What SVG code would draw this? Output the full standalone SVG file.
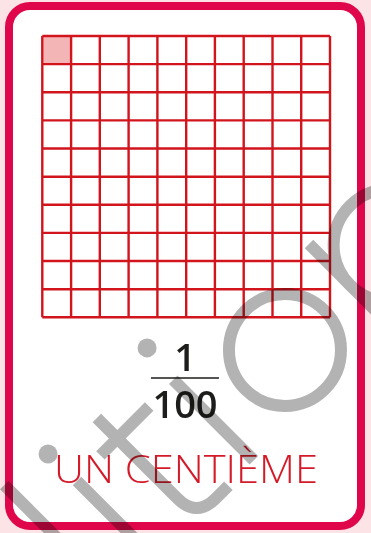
<svg xmlns="http://www.w3.org/2000/svg" width="371" height="533" viewBox="0 0 371 533">
  <style>
    .grid { stroke: #d2141d; stroke-width: 2.4; fill: none; }
    .wm { stroke: #b3b3b3; stroke-width: 12; fill: none; stroke-linecap: butt; }
    .wmdot { fill: #b3b3b3; }
    .num { font-family: "Open Sans", "Liberation Sans", sans-serif; font-weight: 600; font-size: 38px; fill: #1d1d1b; text-anchor: middle; }
    .label { font-family: "Open Sans", "Liberation Sans", sans-serif; font-weight: 300; font-size: 39px; fill: #d41a28; }
  </style>
  <rect x="0" y="0" width="371" height="533" fill="#fbe3e6"/>
  <g id="card">
    <rect x="11" y="8" width="352" height="520" rx="21" fill="#cfc2c4" opacity="0.6"/>
    <rect x="9" y="6" width="352" height="520" rx="21" fill="#ffffff" stroke="#e0064b" stroke-width="8"/>
  </g>
  <g id="grid">
    <rect x="43.3" y="37" width="27.8" height="27.1" fill="#f3b5b5"/>
    <path class="grid" d="M42.3 36V317.3M71.1 36V317.3M99.8 36V317.3M128.6 36V317.3M157.4 36V317.3M186.2 36V317.3M214.9 36V317.3M243.7 36V317.3M272.5 36V317.3M301.2 36V317.3M330 36V317.3M42.3 36H330M42.3 64.1H330M42.3 92.3H330M42.3 120.4H330M42.3 148.5H330M42.3 176.7H330M42.3 204.8H330M42.3 232.9H330M42.3 261H330M42.3 289.2H330M42.3 317.3H330"/>
  </g>
  <g id="fraction">
    <text class="num" x="185" y="371">1</text>
    <line x1="151" y1="378" x2="219" y2="378" stroke="#1d1d1b" stroke-width="1.6"/>
    <text class="num" x="185" y="418">100</text>
  </g>
  <g id="title">
    <text class="label" x="54" y="483" textLength="264" lengthAdjust="spacingAndGlyphs">UN CENTIÈME</text>
  </g>
  <g id="watermark" style="mix-blend-mode: multiply" transform="rotate(-45)">
    <path class="wm" d="M-340 346V560"/>
    <path class="wm" d="M-285.7 394.6V560"/>
    <circle class="wmdot" cx="-287" cy="355" r="9.5"/>
    <path class="wm" d="M-227 364V478Q-227 505 -200 505H-182"/>
    <path class="wm" d="M-251 393H-182"/>
    <path class="wm" d="M-146 391V505"/>
    <circle class="wmdot" cx="-142" cy="350" r="9.5"/>
    <circle class="wm" cx="-46" cy="449" r="56"/>
    <path class="wm" d="M46 391V560"/>
    <circle class="wm" cx="102" cy="449" r="56"/>
  </g>
</svg>
